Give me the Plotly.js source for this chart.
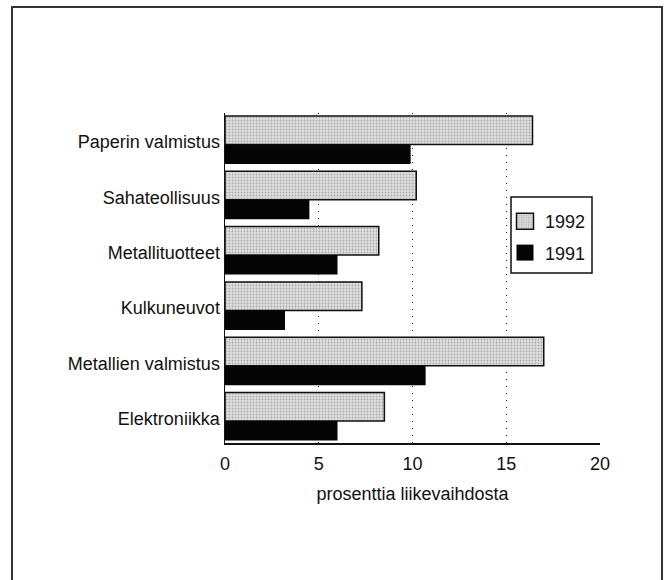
<!DOCTYPE html>
<html>
<head>
<meta charset="utf-8">
<script src="https://cdn.plot.ly/plotly-3.0.1.min.js"></script>
<style>
html,body{margin:0;padding:0;background:#fff;}
#chart{width:668px;height:580px;}
</style>
</head>
<body>
<div id="chart"></div>
<script>
const categories = ['Paperin valmistus','Sahateollisuus','Metallituotteet','Kulkuneuvot','Metallien valmistus','Elektroniikka'];
const series1992 = [16.4, 10.2, 8.2, 7.3, 17.0, 8.5];
const series1991 = [9.9, 4.5, 6.0, 3.2, 10.7, 6.0];
const xTicks = [0, 5, 10, 15, 20];
const xTitle = 'prosenttia liikevaihdosta';

const FONT = '"Liberation Sans", Arial, Helvetica, sans-serif';
const FS = 18;

const traces = [
  {
    type: 'bar', orientation: 'h', name: '1992', legendgroup: 'a',
    y: categories, x: series1992,
    offset: -0.47, width: 0.515,
    marker: {
      color: '#dcdcdc',
      line: {color: '#111', width: 1.5},
      pattern: {shape: '.', bgcolor: '#e0e0e0', fgcolor: '#aaaaaa', size: 3, solidity: 0.3}
    },
    hoverinfo: 'skip'
  },
  {
    type: 'bar', orientation: 'h', name: '1991', legendgroup: 'b',
    y: categories, x: series1991,
    offset: 0.045, width: 0.353,
    marker: {color: '#050505', line: {color: '#050505', width: 0}},
    hoverinfo: 'skip'
  }
];

const L = 225, R = 68, T = 113, B = 137;
const PW = 668 - L - R, PH = 580 - T - B;
const px = v => (v - L) / PW;
const py = v => (580 - B - v) / PH;

const layout = {
  width: 668, height: 580,
  margin: {l: L, r: R, t: T, b: B, pad: 0},
  paper_bgcolor: '#fff', plot_bgcolor: '#fff',
  font: {family: FONT, size: FS, color: '#111'},
  barmode: 'group',
  showlegend: true,
  legend: {
    x: px(505), y: py(203), xanchor: 'left', yanchor: 'top',
    bgcolor: 'rgba(0,0,0,0)', borderwidth: 0,
    traceorder: 'grouped', tracegroupgap: 5,
    font: {family: FONT, size: FS, color: '#111'}
  },
  xaxis: {
    range: [0, 20], tickvals: xTicks, ticktext: xTicks.map(String),
    showgrid: true, gridcolor: '#222', gridwidth: 1, griddash: '1px,6px',
    zeroline: false, showline: true, linecolor: '#111', linewidth: 1.5,
    ticks: 'outside', ticklen: 4, tickcolor: 'rgba(0,0,0,0)',
    tickfont: {family: FONT, size: FS, color: '#111'},
    title: {text: xTitle, font: {family: FONT, size: FS, color: '#111'}, standoff: 14},
    fixedrange: true
  },
  yaxis: {
    type: 'category', categoryorder: 'array', categoryarray: categories,
    range: [5.443, -0.524],
    showgrid: false, zeroline: false, showline: true, linecolor: '#111', linewidth: 1.5,
    ticks: '', tickfont: {family: FONT, size: FS, color: '#111'},
    fixedrange: true
  },
  shapes: [
    {type: 'rect', xref: 'paper', yref: 'paper', x0: px(12), x1: px(662), y0: py(590), y1: py(7),
     line: {color: '#333', width: 2}, fillcolor: 'rgba(0,0,0,0)', layer: 'below'},
    {type: 'rect', xref: 'paper', yref: 'paper', x0: px(511), x1: px(592), y0: py(273), y1: py(197),
     line: {color: '#111', width: 1.5}, fillcolor: '#fff', layer: 'above'}
  ]
};

Plotly.newPlot('chart', traces, layout, {displayModeBar: false, staticPlot: true}).then(() => {
  document.querySelectorAll('#chart .legendpoints path').forEach(p => {
    p.setAttribute('d', 'M8.5,8H-8.5V-8H8.5Z');
  });
});
</script>
</body>
</html>
